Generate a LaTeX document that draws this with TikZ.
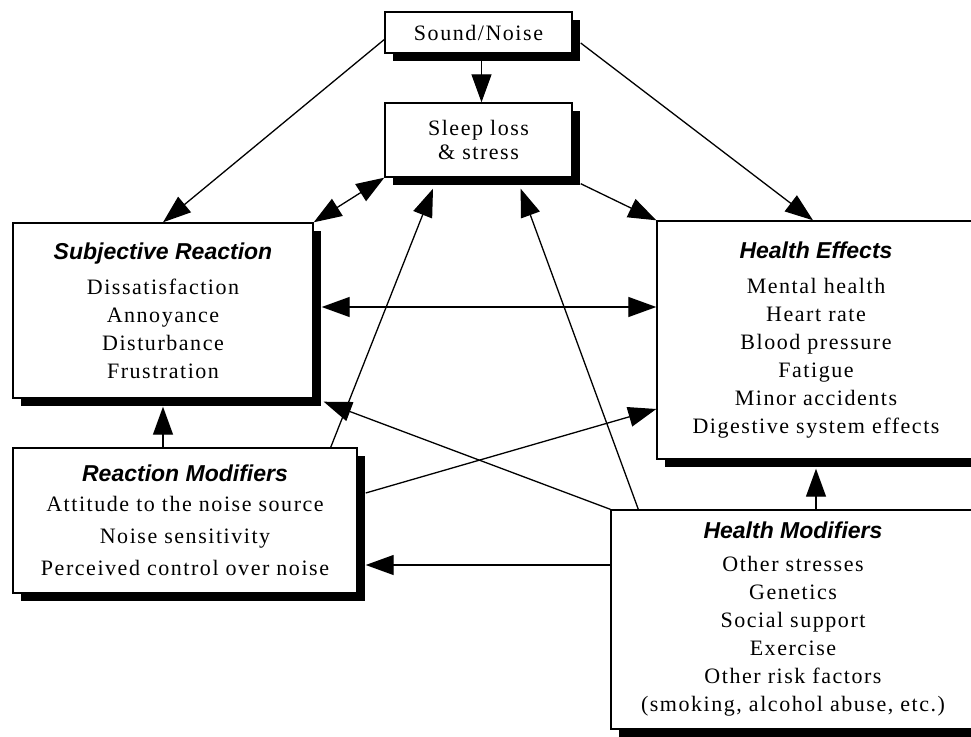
\documentclass[tikz,border=0pt]{standalone}
\usepackage{fontspec}
\setmainfont{Liberation Serif}[LetterSpace=7]
\newfontfamily\headsans{Liberation Sans}
\usepackage{tikz}
\usetikzlibrary{arrows.meta, positioning, calc, shadows}
\newcommand{\bodyfont}{\fontsize{22}{28}\selectfont}
\newcommand{\headfont}{\headsans\bfseries\itshape\fontsize{23}{28}\selectfont}

\begin{document}
\begin{tikzpicture}[x=1pt, y=-1pt,
    box/.style={draw, line width=1.4pt, fill=white, align=center, inner sep=0pt, font=\bodyfont,
        drop shadow={shadow xshift=8pt, shadow yshift=-8pt, fill=black, opacity=1}},
    link/.style={line width=1.3pt, -{Triangle[length=28pt, width=20pt]}},
    twolink/.style={line width=1.3pt, {Triangle[length=28pt, width=20pt]}-{Triangle[length=28pt, width=20pt]}}]
    \useasboundingbox (0,0) rectangle (971,736);
    \clip (0,0) rectangle (971,736);
    \fill[white] (0,0) rectangle (971,736);

    % Top source and sleep boxes
    \node[box, minimum width=187pt, minimum height=41pt] (sound) at (478.5,32.5) {Sound/Noise};
    \node[box, minimum width=187pt, minimum height=74pt] (sleep) at (478.5,140) {Sleep loss\\[-4pt] \& stress};

    % Reaction side
    \node[box, minimum width=300pt, minimum height=175pt] (subj) at (163,310.5)
        {{\headfont Subjective Reaction}\\[7pt] Dissatisfaction\\ Annoyance\\ Disturbance\\ Frustration};
    \node[box, minimum width=344pt, minimum height=145pt] (react) at (185,520.5)
        {{\headfont Reaction Modifiers}\\[2pt] Attitude to the noise source\\[4pt] Noise sensitivity\\[4pt] Perceived control over noise};

    % Health side
    \node[box, minimum width=318pt, minimum height=238pt] (health) at (816,340)
        {{\headfont Health Effects}\\[7pt] Mental health\\ Heart rate\\ Blood pressure\\ Fatigue\\ Minor accidents\\ Digestive system effects};
    \node[box, minimum width=364pt, minimum height=219pt] (hmod) at (793,619.5)
        {{\headfont Health Modifiers}\\[5pt] Other stresses\\ Genetics\\ Social support\\ Exercise\\ Other risk factors\\ (smoking, alcohol abuse, etc.)};

    % Helper points on the shadow edges
    \coordinate (subjR) at ([xshift=8pt, yshift=3.5pt]subj.east);
    \coordinate (reactR) at ([xshift=8pt]react.east);
    \coordinate (hmodL) at ([yshift=54.5pt]hmod.west);

    % Connectors from Sound/Noise
    \draw[link] ([yshift=-7pt]sound.west) -- (subj.north);
    \draw[link] ([xshift=3pt]sound.south) -- ([xshift=3pt]sleep.north);
    \draw[link] ([xshift=8pt, yshift=-10.5pt]sound.east) -- ([xshift=-3pt]health.north);

    % Connectors around Sleep loss
    \draw[twolink] (sleep.south west) -- (subj.north east);
    \draw[link] ([xshift=8pt, yshift=-6pt]sleep.south east) -- (health.north west);
    \draw[link] ([xshift=-27pt]react.north east) -- ([xshift=-45.5pt, yshift=-11pt]sleep.south);
    \draw[link] ([xshift=28pt]hmod.north west) -- ([xshift=-52pt, yshift=-11pt]sleep.south east);

    % Cross connectors
    \draw[twolink] (subjR) -- (subjR -| health.west);
    \draw[link] ([xshift=8pt, yshift=27.5pt]react.east) -- ([yshift=-69pt]health.west);
    \draw[link] (hmod.north west) -- ([xshift=10pt, yshift=-3pt]subj.south east);

    % Modifier connectors
    \draw[link] (react.north -| subj.south) -- ([yshift=-8pt]subj.south);
    \draw[link] (hmodL) -- (hmodL -| reactR);
    \draw[link] (hmod.north -| health.south) -- ([yshift=-9pt]health.south);
\end{tikzpicture}
\end{document}
